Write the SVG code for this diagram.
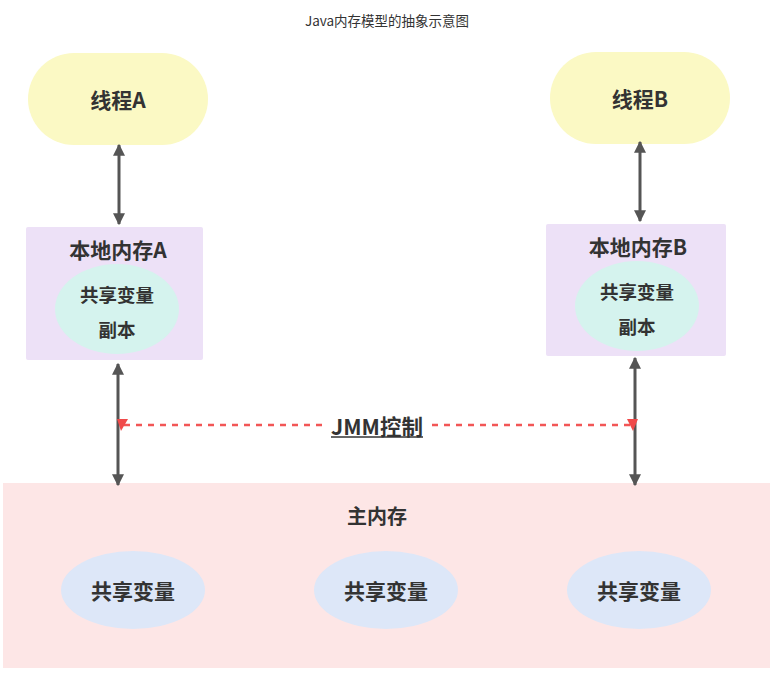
<svg xmlns="http://www.w3.org/2000/svg" width="774" height="682" viewBox="0 0 774 682">
<style>
.t{font-family:"Noto Sans CJK SC","Liberation Sans",sans-serif;font-weight:bold;fill:#333;text-anchor:middle;dominant-baseline:central}
.big{font-size:21px}
.mid{font-size:18.5px}
.arr{stroke:#555;stroke-width:3;fill:none}
</style>
<defs>
<marker id="ah" viewBox="0 0 10 10" refX="9" refY="5" markerWidth="4" markerHeight="4" orient="auto-start-reverse" markerUnits="strokeWidth">
<path d="M0,0 L10,5 L0,10 z" fill="#555"/>
</marker>
</defs>
<rect width="774" height="682" fill="#fff"/>
<text x="387" y="20" style="font-family:'Noto Sans CJK SC','Liberation Sans',sans-serif;font-size:13.5px;fill:#333;text-anchor:middle;dominant-baseline:central">Java内存模型的抽象示意图</text>

<g id="main-memory">
<rect x="3" y="483" width="767" height="185" fill="#fde6e6"/>
<text class="t" style="font-size:20px" x="377" y="515">主内存</text>
</g>
<g id="var1">
<ellipse cx="133" cy="590" rx="72" ry="39" fill="#dde7f8"/>
<text class="t big" x="133" y="590">共享变量</text>
</g>
<g id="var2">
<ellipse cx="386" cy="590" rx="72" ry="39" fill="#dde7f8"/>
<text class="t big" x="386" y="590">共享变量</text>
</g>
<g id="var3">
<ellipse cx="639" cy="590" rx="72" ry="39" fill="#dde7f8"/>
<text class="t big" x="639" y="590">共享变量</text>
</g>

<g id="thread-a">
<rect x="28" y="53" width="180" height="92" rx="46" fill="#fbf9c4"/>
<text class="t big" x="118" y="99">线程A</text>
</g>
<g id="thread-b">
<rect x="550" y="52" width="180" height="92" rx="46" fill="#fbf9c4"/>
<text class="t big" x="640" y="98">线程B</text>
</g>

<g id="local-a">
<rect x="26" y="227" width="177" height="133" rx="2" fill="#ede1f7"/>
<text class="t big" x="118" y="249">本地内存A</text>
<ellipse cx="117" cy="309" rx="62" ry="45" fill="#d5f3ee"/>
<text class="t mid" x="117" y="294">共享变量</text>
<text class="t mid" x="117" y="329">副本</text>
</g>
<g id="local-b">
<rect x="546" y="224" width="180" height="132" rx="2" fill="#ede1f7"/>
<text class="t big" x="638" y="246">本地内存B</text>
<ellipse cx="637" cy="306" rx="62" ry="45" fill="#d5f3ee"/>
<text class="t mid" x="637" y="291">共享变量</text>
<text class="t mid" x="637" y="326">副本</text>
</g>

<g id="connectors">
<line class="arr" x1="119" y1="145" x2="119" y2="224" marker-start="url(#ah)" marker-end="url(#ah)"/>
<line class="arr" x1="640" y1="142" x2="640" y2="221" marker-start="url(#ah)" marker-end="url(#ah)"/>
<line class="arr" x1="118" y1="364" x2="118" y2="485" marker-start="url(#ah)" marker-end="url(#ah)"/>
<line class="arr" x1="635" y1="358" x2="635" y2="485" marker-start="url(#ah)" marker-end="url(#ah)"/>
<line x1="124" y1="425" x2="325" y2="425" stroke="#f25656" stroke-width="2.5" stroke-dasharray="6,6"/>
<line x1="432" y1="425" x2="630" y2="425" stroke="#f25656" stroke-width="2.5" stroke-dasharray="6,6"/>
<path d="M117,419 L128,419 L121,431 z" fill="#f04a4a"/>
<path d="M627,419 L638,419 L633,431 z" fill="#f04a4a"/>
<text class="t" style="font-size:21.5px" x="377" y="425">JMM控制</text>
<line x1="331" y1="437" x2="423" y2="437" stroke="#333" stroke-width="1.5"/>
</g>
</svg>
